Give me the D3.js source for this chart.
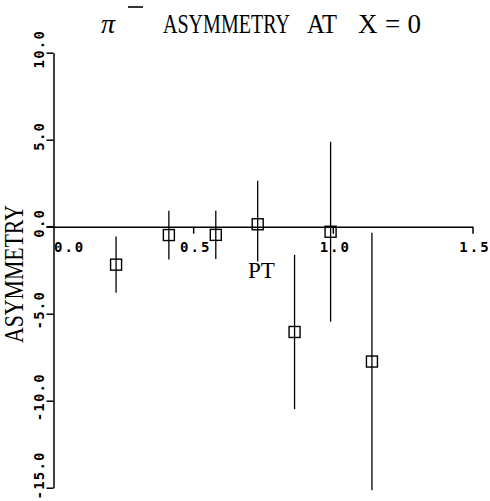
<!DOCTYPE html>
<html>
<head>
<meta charset="utf-8">
<script src="https://cdn.jsdelivr.net/npm/d3@7"></script>
<style>
  html, body { margin: 0; padding: 0; background: #fff; }
  svg { display: block; }
</style>
</head>
<body>
<svg id="chart" width="490" height="501"></svg>
<script>
// Transverse momentum bins and measured asymmetry with its error
const ptValues   = [0.224, 0.413, 0.581, 0.731, 0.863, 0.992, 1.140];
const asymValues = [-2.18, -0.48, -0.47, 0.14, -6.05, -0.29, -7.75];
const asymErrors = [1.61, 1.40, 1.39, 2.50, 4.44, 5.17, 7.40];

// Axis ticks and their printed labels
const xTicks = [0, 0.5, 1.0, 1.5];
const xTickLabels = ["0.0", "0.5", "1.0", "1.5"];
const yTicks = [-15, -10, -5, 0, 5, 10];
const yTickLabels = ["-15.0", "-10.0", "-5.0", "0.0", "5.0", "10.0"];

const W = 490, H = 501;
const svg = d3.select("#chart");
const x = d3.scaleLinear().domain([0, 1.5]).range([53.5, 472.5]);
const y = d3.scaleLinear().domain([-15, 10]).range([487.7, 52.7]);

const serif = "'Liberation Serif', 'Times New Roman', serif";
const mono = "'DejaVu Sans Mono', monospace";

// Narrow plotter-style lettering: squeeze a text horizontally to a given width
function narrowText(parent, str, size, width, anchorX, baseY, rotate) {
  const t = parent.append("text")
    .attr("font-family", serif).attr("font-size", size).text(str);
  const natural = t.node().getComputedTextLength();
  const sx = width / natural;
  const rot = rotate ? " rotate(-90)" : "";
  t.attr("transform", `translate(${anchorX},${baseY})${rot} scale(${sx},1)`);
  return t;
}

// Title: pi-minus symbol with superscript bar, then the text
svg.append("text").attr("x", 101).attr("y", 33)
  .attr("font-family", serif).attr("font-style", "italic").attr("font-size", 28)
  .text("π");
svg.append("line").attr("x1", 128).attr("x2", 143).attr("y1", 7).attr("y2", 7)
  .attr("stroke", "#000").attr("stroke-width", 1.6);
narrowText(svg, "ASYMMETRY", 27, 127, 163, 33, false);
narrowText(svg, "AT", 27, 30, 307, 33, false);
svg.append("text").attr("x", 358).attr("y", 33)
  .attr("font-family", serif).attr("font-size", 27)
  .attr("textLength", 63).attr("lengthAdjust", "spacing")
  .text("X=0");

// Error bars
const g = svg.append("g");
g.selectAll("line.err").data(ptValues).join("line").attr("class", "err")
  .attr("x1", d => x(d)).attr("x2", d => x(d))
  .attr("y1", (d, i) => y(asymValues[i] + asymErrors[i]))
  .attr("y2", (d, i) => y(asymValues[i] - asymErrors[i]))
  .attr("stroke", "#000").attr("stroke-width", 1.3);

// Y axis; vertical labels sit just above their tick, kept inside the frame
const yAxis = d3.axisLeft(y).tickValues(yTicks).tickSize(7).tickSizeOuter(0)
  .tickFormat((d, i) => yTickLabels[i]);
const gy = svg.append("g").attr("transform", `translate(${x(0)},0)`).call(yAxis);
gy.select(".domain").attr("stroke-width", 1.5);
gy.selectAll(".tick line").attr("stroke-width", 1.5);
gy.selectAll(".tick text")
  .attr("font-family", mono).attr("font-size", 14).attr("font-weight", "bold")
  .attr("letter-spacing", 1.2).attr("fill", "#000")
  .attr("text-anchor", "middle").attr("x", null).attr("dy", null)
  .each(function (d) {
    const half = this.getComputedTextLength() / 2;
    const centre = Math.min(y(d) - 4, H - half - 2);
    d3.select(this).attr("transform", `translate(-10,${centre - y(d)}) rotate(-90)`);
  });

// X axis drawn along the zero line
const xAxis = d3.axisBottom(x).tickValues(xTicks).tickSize(7).tickSizeOuter(0)
  .tickFormat((d, i) => xTickLabels[i]);
const gx = svg.append("g").attr("transform", `translate(0,${y(0)})`).call(xAxis);
gx.select(".domain").attr("stroke-width", 1.5);
gx.selectAll(".tick line").attr("stroke-width", 1.5);
gx.selectAll(".tick").filter(d => d === 0).select("line").remove();
gx.selectAll(".tick text")
  .attr("font-family", mono).attr("font-size", 14).attr("font-weight", "bold")
  .attr("letter-spacing", 2).attr("fill", "#000")
  .attr("dy", null).attr("y", 25)
  .attr("text-anchor", d => d === 0 ? "start" : "middle")
  .attr("x", d => d === 0 ? 0 : 2);
svg.append("line")
  .attr("x1", x(0) - 7).attr("x2", x(0))
  .attr("y1", y(0)).attr("y2", y(0))
  .attr("stroke", "#000").attr("stroke-width", 1.5);

// Data markers: open squares
g.selectAll("rect.pt").data(ptValues).join("rect").attr("class", "pt")
  .attr("x", d => x(d) - 5.5)
  .attr("y", (d, i) => y(asymValues[i]) - 5.5)
  .attr("width", 11).attr("height", 11)
  .attr("fill", "none").attr("stroke", "#000").attr("stroke-width", 1.4);
g.raise();

// Axis titles
narrowText(svg, "PT", 23, 27, 248, 278, false)
  .attr("stroke", "#fff").attr("stroke-width", 4).attr("paint-order", "stroke");
narrowText(svg, "ASYMMETRY", 27, 138, 23, 343, true);
</script>
</body>
</html>
